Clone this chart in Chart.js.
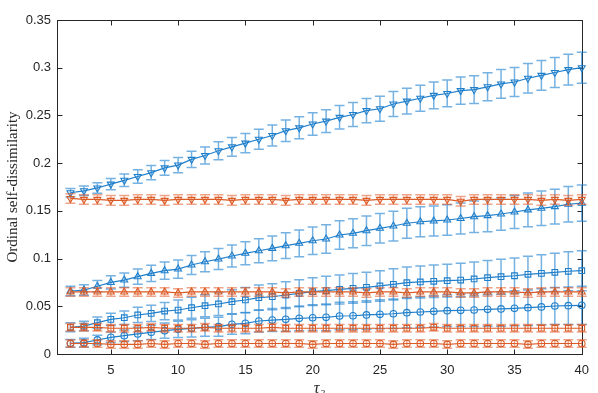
<!DOCTYPE html>
<html>
<head>
<meta charset="utf-8">
<script src="https://cdn.jsdelivr.net/npm/chart.js@4"></script>
<style>
  html, body { margin: 0; padding: 0; background: #fff; }
  #wrap { width: 598px; height: 393px; }
</style>
</head>
<body>
<div id="wrap"><canvas id="myChart"></canvas></div>
<script>
// tau values on x
const tau = [2,3,4,5,6,7,8,9,10,11,12,13,14,15,16,17,18,19,20,21,22,23,24,25,26,27,28,29,30,31,32,33,34,35,36,37,38,39,40];
const xTicks = [5,10,15,20,25,30,35,40];
const yTicks = [0,0.05,0.1,0.15,0.2,0.25,0.3,0.35];

// blue series
const blueDown = [0.169,0.171,0.174,0.178,0.182,0.186,0.190,0.195,0.198,0.204,0.208,0.213,0.217,0.221,0.225,0.229,0.234,0.237,0.241,
  0.244,0.248,0.251,0.255,0.257,0.262,0.265,0.268,0.271,0.273,0.276,0.277,0.280,0.283,0.285,0.289,0.292,0.295,0.298,0.300];
const blueDownErr = [0.0045,0.005,0.0055,0.006,0.0065,0.007,0.0075,0.0078,0.008,0.0085,0.009,0.0095,0.0098,0.010,0.0105,0.011,0.0112,0.0115,0.0118,
  0.012,0.0123,0.0125,0.0128,0.013,0.0132,0.0135,0.0137,0.014,0.014,0.0143,0.0145,0.0147,0.015,0.0152,0.0154,0.0156,0.0158,0.016,0.0162];
const blueUp = [0.066,0.067,0.071,0.075,0.0775,0.081,0.0845,0.0873,0.089,0.0933,0.0967,0.0995,0.1027,0.1055,0.1082,0.1107,0.1135,0.116,0.1187,
  0.1205,0.1247,0.1265,0.1292,0.1317,0.1341,0.137,0.1386,0.1394,0.1404,0.142,0.1439,0.145,0.1467,0.1488,0.151,0.1527,0.1544,0.1569,0.158];
const blueUpErr = [0.005,0.0055,0.006,0.007,0.0075,0.008,0.0085,0.009,0.0095,0.010,0.0105,0.011,0.0115,0.012,0.0125,0.013,0.0135,0.014,0.0145,
  0.015,0.015,0.0152,0.0154,0.0155,0.0156,0.0157,0.0158,0.0158,0.016,0.0162,0.0165,0.0168,0.017,0.0173,0.0176,0.018,0.0183,0.0186,0.019];
const blueSq = [0.028,0.0293,0.0328,0.0363,0.038,0.0409,0.0426,0.045,0.0461,0.0485,0.0506,0.0524,0.0548,0.0566,0.059,0.060,0.0618,0.0636,0.0653,
  0.0665,0.0677,0.0688,0.0699,0.0713,0.073,0.0747,0.0755,0.0762,0.0768,0.0775,0.0786,0.080,0.081,0.082,0.0835,0.0845,0.0856,0.0867,0.0873];
const blueSqErr = [0.0047,0.005,0.006,0.0065,0.007,0.008,0.0085,0.009,0.0105,0.011,0.0115,0.012,0.0125,0.013,0.0132,0.0135,0.014,0.0142,0.0145,
  0.015,0.0152,0.0155,0.0158,0.016,0.0163,0.0165,0.0168,0.017,0.0172,0.0175,0.0178,0.018,0.0183,0.0186,0.019,0.0195,0.02,0.0205,0.021];
const blueCirc = [0.0112,0.0119,0.0147,0.0175,0.0192,0.021,0.0227,0.0244,0.0259,0.0269,0.028,0.0286,0.0311,0.0321,0.0346,0.0356,0.0363,0.0374,0.038,
  0.0384,0.0398,0.0401,0.0409,0.0416,0.0422,0.0433,0.044,0.0447,0.0454,0.0458,0.0461,0.0468,0.0472,0.0479,0.0485,0.0493,0.0503,0.0506,0.051];
const blueCircErr = [0.004,0.0045,0.005,0.0055,0.006,0.007,0.0075,0.008,0.0085,0.009,0.0095,0.010,0.0105,0.011,0.0115,0.012,0.0125,0.013,0.0135,
  0.014,0.0143,0.0146,0.015,0.0152,0.0155,0.0158,0.016,0.0163,0.0166,0.017,0.0173,0.0176,0.018,0.0183,0.0186,0.019,0.0193,0.0196,0.02];

// orange series
const orDown = [0.163,0.162,0.162,0.161,0.161,0.162,0.162,0.161,0.162,0.162,0.162,0.162,0.161,0.162,0.162,0.162,0.161,0.162,0.162,
  0.162,0.162,0.162,0.161,0.162,0.162,0.162,0.162,0.162,0.162,0.160,0.162,0.162,0.162,0.162,0.162,0.161,0.162,0.161,0.162];
const orDownErr = [0.005,0.005,0.005,0.005,0.005,0.005,0.005,0.005,0.005,0.005,0.005,0.005,0.005,0.005,0.005,0.005,0.005,0.005,0.005,
  0.005,0.005,0.005,0.005,0.005,0.005,0.005,0.005,0.005,0.005,0.005,0.005,0.005,0.005,0.005,0.005,0.005,0.005,0.005,0.005];
const orUp = [0.065,0.065,0.065,0.065,0.065,0.065,0.065,0.065,0.064,0.065,0.065,0.065,0.065,0.065,0.065,0.065,0.064,0.065,0.065,
  0.065,0.065,0.065,0.064,0.065,0.065,0.064,0.065,0.065,0.065,0.064,0.064,0.065,0.065,0.065,0.064,0.065,0.065,0.065,0.065];
const orUpErr = [0.0045,0.0045,0.0045,0.0045,0.0045,0.0045,0.0045,0.0045,0.0045,0.0045,0.0045,0.0045,0.0045,0.0045,0.0045,0.0045,0.0045,0.0045,0.0045,
  0.0045,0.0045,0.0045,0.0045,0.0045,0.0045,0.0045,0.0045,0.0045,0.0045,0.0045,0.0045,0.0045,0.0045,0.0045,0.0045,0.0045,0.0045,0.0045,0.0045];
const orSq = [0.028,0.028,0.028,0.027,0.027,0.027,0.028,0.027,0.027,0.027,0.028,0.027,0.027,0.027,0.027,0.028,0.027,0.027,0.027,
  0.027,0.027,0.027,0.027,0.027,0.027,0.027,0.027,0.028,0.027,0.027,0.027,0.027,0.027,0.027,0.027,0.027,0.027,0.027,0.027];
const orSqErr = [0.004,0.004,0.004,0.004,0.004,0.004,0.004,0.004,0.004,0.004,0.004,0.004,0.004,0.004,0.004,0.004,0.004,0.004,0.004,
  0.004,0.004,0.004,0.004,0.004,0.004,0.004,0.004,0.004,0.004,0.004,0.004,0.004,0.004,0.004,0.004,0.004,0.004,0.004,0.004];
const orCirc = [0.011,0.011,0.011,0.010,0.010,0.010,0.011,0.010,0.011,0.011,0.010,0.011,0.011,0.011,0.011,0.011,0.011,0.011,0.010,
  0.011,0.011,0.011,0.011,0.011,0.010,0.011,0.011,0.011,0.010,0.011,0.011,0.011,0.011,0.011,0.010,0.011,0.011,0.011,0.011];
const orCircErr = [0.004,0.004,0.004,0.004,0.004,0.004,0.004,0.004,0.004,0.004,0.004,0.004,0.004,0.004,0.004,0.004,0.004,0.004,0.004,
  0.004,0.004,0.004,0.004,0.004,0.004,0.004,0.004,0.004,0.004,0.004,0.004,0.004,0.004,0.004,0.004,0.004,0.004,0.004,0.004];

const blue = "#1f7fcb";
const orange = "#dc5a24";
const blueBar = "rgba(25,125,205,0.6)";
const orangeBar = "rgba(225,90,40,0.55)";

function series(vals, errs, color, barColor, style, rot, r) {
    return {
        data: tau.map((t, i) => ({ x: t, y: vals[i] })),
        errors: errs,
        barColor: barColor,
        borderColor: color,
        backgroundColor: "rgba(0,0,0,0)",
        borderWidth: 1.2,
        pointStyle: style,
        rotation: rot,
        pointRadius: r,
        pointBorderWidth: 1.1,
        pointBorderColor: color,
        pointBackgroundColor: "rgba(0,0,0,0)",
        tension: 0,
        clip: false
    };
}

// draws error bars for a dataset through the chart scales
const errorBars = {
    id: "errorBars",
    beforeDatasetDraw(chart, args) {
        const ds = chart.data.datasets[args.index];
        if (!ds.errors) return;
        const xs = chart.scales.x, ys = chart.scales.y;
        const ctx = chart.ctx;
        ctx.save();
        ctx.strokeStyle = ds.barColor;
        ctx.lineWidth = 1.5;
        ds.data.forEach((p, i) => {
            const e = ds.errors[i];
            const px = xs.getPixelForValue(p.x);
            const top = ys.getPixelForValue(p.y + e);
            const bot = ys.getPixelForValue(p.y - e);
            ctx.beginPath();
            ctx.moveTo(px, top); ctx.lineTo(px, bot);
            ctx.moveTo(px - 5, top); ctx.lineTo(px + 5, top);
            ctx.moveTo(px - 5, bot); ctx.lineTo(px + 5, bot);
            ctx.stroke();
        });
        ctx.restore();
    }
};

// matlab style box with inward ticks
const axesBox = {
    id: "axesBox",
    beforeDatasetsDraw(chart) {
        const a = chart.chartArea, ctx = chart.ctx;
        const xs = chart.scales.x, ys = chart.scales.y;
        ctx.save();
        ctx.strokeStyle = "#262626";
        ctx.lineWidth = 1;
        const l = Math.round(a.left) + 0.5, r = Math.round(a.right) + 0.5;
        const t = Math.round(a.top) + 0.5, b = Math.round(a.bottom) + 0.5;
        ctx.strokeRect(l, t, r - l, b - t);
        ctx.beginPath();
        xTicks.forEach(v => {
            const px = Math.round(xs.getPixelForValue(v)) + 0.5;
            ctx.moveTo(px, b); ctx.lineTo(px, b - 5);
            ctx.moveTo(px, t); ctx.lineTo(px, t + 5);
        });
        yTicks.forEach(v => {
            const py = Math.round(ys.getPixelForValue(v)) + 0.5;
            ctx.moveTo(l, py); ctx.lineTo(l + 5, py);
            ctx.moveTo(r, py); ctx.lineTo(r - 5, py);
        });
        ctx.stroke();
        ctx.restore();
    }
};

new Chart("myChart", {
    type: "line",
    data: {
        datasets: [
            series(orDown, orDownErr, orange, orangeBar, "triangle", 180, 4),
            series(orUp, orUpErr, orange, orangeBar, "triangle", 0, 4),
            series(orSq, orSqErr, orange, orangeBar, "rect", 0, 4),
            series(orCirc, orCircErr, orange, orangeBar, "circle", 0, 3.3),
            series(blueDown, blueDownErr, blue, blueBar, "triangle", 180, 4),
            series(blueUp, blueUpErr, blue, blueBar, "triangle", 0, 4),
            series(blueSq, blueSqErr, blue, blueBar, "rect", 0, 4),
            series(blueCirc, blueCircErr, blue, blueBar, "circle", 0, 3.3)
        ]
    },
    options: {
        responsive: true,
        maintainAspectRatio: false,
        animation: false,
        layout: { padding: { left: 0, right: 11, top: 20, bottom: 0 } },
        plugins: { legend: { display: false }, tooltip: { enabled: false } },
        scales: {
            x: {
                type: "linear",
                min: 1,
                max: 40,
                afterBuildTicks: s => { s.ticks = xTicks.map(v => ({ value: v })); },
                afterFit: s => { s.height = 39; },
                grid: { display: false, drawTicks: false },
                border: { display: false },
                ticks: { color: "#262626", padding: 9, maxRotation: 0, font: { family: "Liberation Sans", size: 13 } },
                title: {
                    display: true,
                    text: "τ₂",
                    color: "#262626",
                    padding: { top: 0, bottom: -5 },
                    font: { family: "Liberation Serif", size: 16, style: "italic" }
                }
            },
            y: {
                min: 0,
                max: 0.35,
                afterBuildTicks: s => { s.ticks = yTicks.map(v => ({ value: v })); },
                afterFit: s => { s.width = 57; },
                grid: { display: false, drawTicks: false },
                border: { display: false },
                ticks: {
                    color: "#262626",
                    padding: 6,
                    font: { family: "Liberation Sans", size: 13 },
                    callback: v => String(Number(v.toFixed(2)))
                },
                title: {
                    display: true,
                    text: "Ordinal self-dissimilarity",
                    color: "#262626",
                    padding: { top: 4, bottom: 0 },
                    font: { family: "Liberation Serif", size: 15 }
                }
            }
        }
    },
    plugins: [errorBars, axesBox]
});
</script>
</body>
</html>
